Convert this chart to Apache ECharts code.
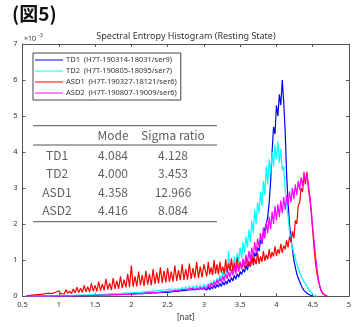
<!DOCTYPE html>
<html><head><meta charset="utf-8">
<script src="https://cdn.jsdelivr.net/npm/echarts@6/dist/echarts.min.js"></script>
<style>html,body{margin:0;padding:0;background:#fff}#c{width:357px;height:327px}</style>
</head><body><div id="c"></div>
<script>
// bin centres [nat]
const binsA = [0.55,0.575,0.6,0.625,0.65,0.675,0.7,0.725,0.75,0.775,
0.8,0.825,0.85,0.875,0.9,0.925,0.95,0.975,1.0,1.025,
1.05,1.075,1.1,1.125,1.15,1.175,1.2,1.225,1.25,1.275,
1.3,1.325,1.35,1.375,1.4,1.425,1.45,1.475,1.5,1.525,
1.55,1.575,1.6,1.625,1.65,1.675,1.7,1.725,1.75,1.775,
1.8,1.825,1.85,1.875,1.9,1.925,1.95,1.975,2.0,2.025,
2.05,2.075,2.1,2.125,2.15,2.175,2.2,2.225,2.25,2.275,
2.3,2.325,2.35,2.375,2.4,2.425,2.45,2.475,2.5,2.525,
2.55,2.575,2.6,2.625,2.65,2.675,2.7,2.725,2.75,2.775,
2.8,2.825,2.85,2.875,2.9,2.925,2.95,2.975,3.0];
const binsB = [3.02,3.04,3.06,3.08,3.10,3.12,3.14,3.16,3.18,3.20,3.22,3.24,3.26,3.28,3.30,3.32,3.34,3.36,3.38,3.40,3.42,3.44,3.46,3.48,3.50,3.52,3.54,3.56,3.58,3.60,3.62,3.64,3.66,3.68,3.70,3.72,3.74,3.76,3.78,3.80,3.82,3.84,3.86,3.88,3.90,3.92,3.94,3.96,3.98,4.00,4.02,4.04,4.06,4.08,4.10,4.12,4.14,4.16,4.18,4.20,4.22,4.24,4.26,4.28,4.30,4.32,4.34,4.36,4.38,4.40,4.42,4.44,4.46,4.48,4.50,4.52,4.54,4.56,4.58,4.60,4.62,4.64,4.66,4.68,4.70,4.72,4.74,4.76,4.78,4.80];

// values in units of 1e-3
const td1 = [
0,0,0,0,0,0,0,0,0,0,
0,0,0,0,0,0,0.01,0,0,0.01,
0,0.01,0,0.01,0.01,0,0.01,0.01,0.02,0.01,
0.01,0.02,0.01,0.02,0.01,0.02,0.02,0.01,0.02,0.02,
0.03,0.02,0.03,0.02,0.03,0.02,0.04,0.03,0.04,0.03,
0.04,0.03,0.05,0.03,0.05,0.04,0.05,0.04,0.06,0.04,
0.06,0.04,0.07,0.05,0.07,0.05,0.08,0.06,0.08,0.06,
0.09,0.06,0.09,0.07,0.1,0.07,0.11,0.08,0.1,0.08,
0.12,0.09,0.13,0.09,0.14,0.1,0.15,0.11,0.16,0.12,
0.17,0.12,0.18,0.13,0.19,0.14,0.2,0.15,0.21,
0.22,0.16,0.25,0.18,0.26,
0.2,0.3,0.22,0.32,0.25,
0.35,0.27,0.4,0.3,0.42,
0.33,0.48,0.38,0.52,0.42,
0.58,0.47,0.62,0.52,0.68,
0.6,0.75,0.66,0.85,0.72,
0.92,0.82,1.05,0.95,1.2,
1.1,1.35,1.25,1.55,1.45,
1.75,1.7,2.0,2.2,2.6,
3.2,4.0,4.7,4.5,5.3,
5.0,5.6,5.3,6.0,5.4,
4.6,3.4,2.6,2.0,1.6,
1.3,1.0,0.8,0.62,0.5,
0.4,0.3,0.22,0.16,0.12,
0.08,0.05,0.03,0.01,0];

const td2 = [
0,0,0,0,0,0,0,0,0,0,
0,0,0,0.01,0,0,0.01,0,0.01,0.01,
0.01,0.01,0.02,0.01,0.01,0.02,0.02,0.01,0.02,0.02,
0.03,0.02,0.03,0.02,0.03,0.02,0.04,0.03,0.04,0.03,
0.04,0.03,0.05,0.04,0.05,0.04,0.06,0.04,0.07,0.05,
0.06,0.05,0.07,0.05,0.08,0.06,0.08,0.06,0.09,0.07,
0.1,0.07,0.1,0.08,0.11,0.08,0.12,0.09,0.13,0.1,
0.14,0.1,0.15,0.11,0.16,0.12,0.17,0.12,0.18,0.13,
0.2,0.14,0.21,0.15,0.22,0.16,0.24,0.17,0.26,0.18,
0.27,0.19,0.28,0.2,0.3,0.21,0.31,0.22,0.33,
0.32,0.24,0.36,0.27,0.4,
0.3,0.45,0.34,0.5,0.38,
0.58,0.45,0.68,0.5,0.8,
0.6,1.25,0.7,0.95,0.75,
1.1,0.85,1.2,0.95,1.35,
1.05,1.5,1.2,1.65,1.35,
1.85,1.5,2.1,1.75,2.4,
2.0,2.6,2.3,2.9,2.5,
3.2,2.8,3.6,3.1,3.8,
3.4,4.0,3.6,4.2,3.8,
4.3,3.7,4.1,3.5,3.6,
3.0,2.6,2.2,1.8,1.5,
1.35,1.2,1.05,0.9,0.78,
0.66,0.56,0.48,0.4,0.34,
0.27,0.2,0.14,0.09,0.05,
0.02,0.01,0];

const asd1 = [
0,0.01,0.02,0.01,0.03,0.02,0.04,0.02,0.05,0.03,
0.06,0.03,0.08,0.05,0.07,0.04,0.1,0.06,0.15,0.07,
0.12,0.06,0.18,0.08,0.14,0.07,0.2,0.09,0.25,0.1,
0.22,0.1,0.3,0.12,0.26,0.11,0.35,0.14,0.3,0.13,
0.4,0.15,0.33,0.16,0.48,0.18,0.36,0.17,0.5,0.2,
0.42,0.2,0.55,0.22,0.46,0.24,0.62,0.25,0.85,0.26,
0.55,0.27,0.68,0.3,0.58,0.28,0.7,0.32,0.62,0.3,
0.75,0.34,0.65,0.35,0.8,0.36,0.7,0.38,0.78,0.4,
0.68,0.4,0.85,0.42,0.72,0.44,0.88,0.45,0.75,0.46,
0.9,0.48,0.78,0.5,0.95,0.5,0.82,0.52,0.88,
0.85,0.55,0.95,0.6,0.8,
0.58,1.0,0.62,0.88,0.6,
0.95,0.65,0.82,0.62,1.02,
0.66,0.9,0.7,1.05,0.68,
0.92,0.7,1.08,0.72,0.95,
0.75,1.0,0.78,1.1,0.8,
0.98,0.82,1.15,0.85,1.05,
0.88,1.2,0.9,1.1,0.95,
1.25,0.98,1.15,1.02,1.3,
1.05,1.22,1.1,1.38,1.12,
1.3,1.18,1.45,1.2,1.4,
1.3,1.55,1.35,1.65,1.5,
1.8,1.6,2.1,2.0,2.5,
2.6,3.0,2.9,3.35,3.1,
3.45,3.0,2.7,2.3,1.8,
1.3,0.9,0.6,0.4,0.25,
0.15,0.08,0.04,0.02,0];

const asd2 = [
0,0,0,0,0,0,0,0,0,0,
0,0,0,0,0,0,0,0,0,0,
0,0,0.01,0,0,0.01,0,0.01,0.01,0,
0.01,0.01,0.02,0.01,0.01,0.02,0.01,0.02,0.02,0.01,
0.02,0.02,0.03,0.02,0.03,0.02,0.03,0.02,0.04,0.03,
0.04,0.03,0.04,0.03,0.05,0.03,0.05,0.04,0.06,0.04,
0.06,0.04,0.07,0.05,0.07,0.05,0.08,0.06,0.09,0.06,
0.1,0.07,0.1,0.07,0.11,0.08,0.12,0.09,0.13,0.09,
0.14,0.1,0.15,0.11,0.16,0.12,0.18,0.13,0.19,0.14,
0.2,0.15,0.22,0.16,0.23,0.17,0.25,0.18,0.26,
0.28,0.2,0.32,0.24,0.36,
0.27,0.4,0.3,0.45,0.34,
0.5,0.38,0.55,0.42,0.62,
0.48,0.68,0.52,0.75,0.58,
0.82,0.62,0.9,0.68,0.95,
0.75,1.05,0.82,1.15,0.9,
1.25,1.0,1.35,1.1,1.5,
1.2,1.6,1.35,1.75,1.45,
1.9,1.6,2.05,1.75,2.2,
1.85,2.35,2.0,2.5,2.1,
2.55,2.2,2.65,2.3,2.75,
2.4,2.8,2.5,2.9,2.6,
3.0,2.7,3.1,2.8,3.2,
2.95,3.3,3.05,3.45,3.2,
3.35,3.1,2.8,2.4,1.9,
1.5,1.1,0.75,0.45,0.25,
0.12,0.06,0.03,0.01,0];

const seriesNames = ['TD1  (H7T-190314-18031/ser9)','TD2  (H7T-190805-18095/ser7)','ASD1  (H7T-190327-18121/ser6)','ASD2  (H7T-190807-19009/ser6)'];
const seriesColors = ['#0000ff','#00ffff','#ff0000','#ff00ff'];
const xTicks = {min:0.5, max:5, interval:0.5};
const yTicks = {min:0, max:7, interval:1};

// table content
const tableHeader = ['', 'Mode', 'Sigma ratio'];
const tableRows = ['TD1','TD2','ASD1','ASD2'];
const tableMode = ['4.084','4.000','4.358','4.416'];
const tableSigma = ['4.128','3.453','12.966','8.084'];

const bins = binsA.concat(binsB);
const allVals = [td1, td2, asd1, asd2];

const chart = echarts.init(document.getElementById('c'), null, {renderer:'canvas'});
const axisFont = {fontSize:7.5, color:'#333', fontFamily:'Noto Sans, sans-serif'};
const frameColor = '#555';

const graphic = [];
graphic.push({type:'text', x:12, y:14, style:{text:'(図5)', font:'bold 19px "Noto Sans CJK JP", sans-serif', fill:'#111', verticalAlign:'middle'}});
graphic.push({type:'text', x:186, y:36, style:{text:'Spectral Entropy Histogram (Resting State)', font:'9px "Noto Sans", sans-serif', fill:'#333', align:'center', verticalAlign:'middle'}});
graphic.push({type:'text', x:24, y:39, style:{text:'×10', font:'7px "Noto Sans", sans-serif', fill:'#333', verticalAlign:'middle'}});
graphic.push({type:'text', x:38, y:35.5, style:{text:'-3', font:'5.5px "Noto Sans", sans-serif', fill:'#333', verticalAlign:'middle'}});

// table
const tx0 = 33, tx1 = 217;
const colX = [57, 113, 173];
const hdrY = 135, rowY = [155, 173.5, 192, 210.5];
[125.7, 145, 221.7].forEach(y => graphic.push({type:'line', shape:{x1:tx0, y1:y, x2:tx1, y2:y}, style:{stroke:'#555', lineWidth:1}, z:10}));
const tFont = '12px "Noto Sans CJK JP", sans-serif';
const tColor = '#606060';
tableHeader.forEach((t,i) => { if (t) graphic.push({type:'text', x:colX[i], y:hdrY, style:{text:t, font:tFont, fill:tColor, align:'center', verticalAlign:'middle'}, z:10}); });
tableRows.forEach((r,i) => {
  graphic.push({type:'text', x:colX[0], y:rowY[i], style:{text:r, font:tFont, fill:tColor, align:'center', verticalAlign:'middle'}, z:10});
  graphic.push({type:'text', x:colX[1], y:rowY[i], style:{text:tableMode[i], font:tFont, fill:tColor, align:'center', verticalAlign:'middle'}, z:10});
  graphic.push({type:'text', x:colX[2], y:rowY[i], style:{text:tableSigma[i], font:tFont, fill:tColor, align:'center', verticalAlign:'middle'}, z:10});
});

const option = {
  backgroundColor:'#fff',
  animation:false,
  grid:{left:22.5, right:8, top:44, bottom:24},
  legend:{
    orient:'vertical', left:33, top:53, itemWidth:28, itemHeight:8, itemGap:3,
    padding:[3,4,3,2], borderColor:'#444', borderWidth:1, backgroundColor:'#fff',
    textStyle:{fontSize:7.5, color:'#333', fontFamily:'Noto Sans, sans-serif', padding:[0,0,0,-2]},
    data: seriesNames.map(n => ({name:n, icon:'path://M0,0 L28,0 L28,1 L0,1 Z'}))
  },
  xAxis:[
    {type:'value', ...xTicks, position:'bottom',
     axisLine:{onZero:false, lineStyle:{color:frameColor, width:1}},
     axisTick:{inside:true, length:3, lineStyle:{color:frameColor}},
     axisLabel:{...axisFont, margin:5, formatter:v=>String(v)},
     splitLine:{show:false},
     name:'[nat]', nameLocation:'middle', nameGap:17, nameTextStyle:{fontSize:8, color:'#333', fontFamily:'Noto Sans, sans-serif'}},
    {type:'value', ...xTicks, position:'top',
     axisLine:{onZero:false, lineStyle:{color:frameColor, width:1}},
     axisTick:{inside:true, length:3, lineStyle:{color:frameColor}},
     axisLabel:{show:false}, splitLine:{show:false}}
  ],
  yAxis:[
    {type:'value', ...yTicks, position:'left',
     axisLine:{show:true, onZero:false, lineStyle:{color:frameColor, width:1}},
     axisTick:{show:true, inside:true, length:3, lineStyle:{color:frameColor}},
     axisLabel:{...axisFont, margin:5},
     splitLine:{show:false}},
    {type:'value', ...yTicks, position:'right',
     axisLine:{show:true, onZero:false, lineStyle:{color:frameColor, width:1}},
     axisTick:{show:true, inside:true, length:3, lineStyle:{color:frameColor}},
     axisLabel:{show:false}, splitLine:{show:false}}
  ],
  series: allVals.map((vals, k) => ({
    name: seriesNames[k], type:'line', xAxisIndex:0, yAxisIndex:0,
    showSymbol:false, symbol:'none',
    lineStyle:{color:seriesColors[k], width:1.2}, itemStyle:{color:seriesColors[k]},
    data: vals.map((v,i) => [bins[i], v]),
    z:2+k
  })),
  graphic: graphic
};
chart.setOption(option);
</script></body></html>
